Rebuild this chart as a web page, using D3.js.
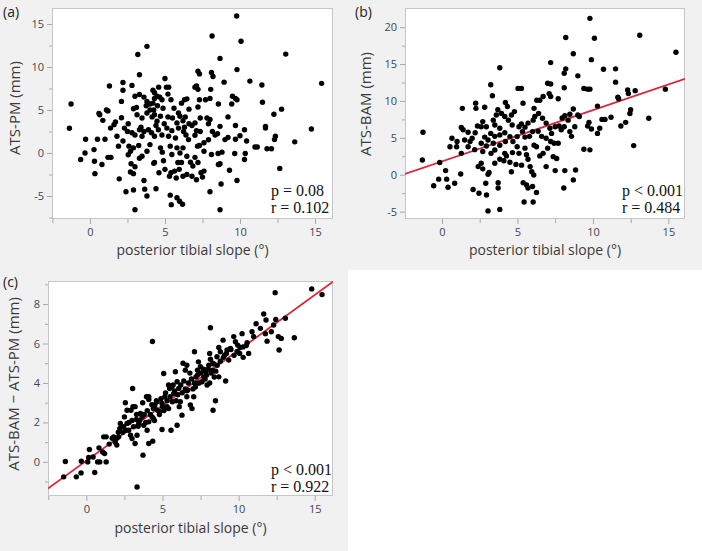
<!DOCTYPE html>
<html><head><meta charset="utf-8">
<script src="https://cdn.jsdelivr.net/npm/d3@7"></script>
<style>body{margin:0;background:#fff}svg{display:block}</style>
</head><body>
<svg id="chart" width="702" height="551"></svg>
<script>
// ---------------- DATA ----------------
const xTickLabels = [0, 5, 10, 15];
const xMinorTicks = [-2.5, 2.5, 7.5, 12.5];
const yTicksA = [-5, 0, 5, 10, 15];
const yMinorA = [-7.5, -2.5, 2.5, 7.5, 12.5];
const yTicksB = [-5, 0, 5, 10, 15, 20];
const yMinorB = [-2.5, 2.5, 7.5, 12.5, 17.5];
const yTicksC = [0, 2, 4, 6, 8];
const yMinorC = [-1, 1, 3, 5, 7, 9];

const panelLabels = ["(a)", "(b)", "(c)"];
const xTitle = "posterior tibial slope (°)";
const yTitles = ["ATS-PM (mm)", "ATS-BAM (mm)", "ATS-BAM − ATS-PM (mm)"];
const statsA = ["p = 0.08", "r = 0.102"];
const statsB = ["p < 0.001", "r = 0.484"];
const statsC = ["p < 0.001", "r = 0.922"];

// regression fits [intercept, slope]
const fitB = [1.8, 0.695];
const fitC = [0.06, 0.56];

// (a) posterior tibial slope vs ATS-PM
const pointsA = [
[9.78,15.93],[8.14,13.6],[10.07,13.0],[3.8,12.4],[3.19,11.45],[13.05,11.5],[8.67,11.0],[3.3,9.1],[7.2,9.5],[7.3,9.2],[8.1,9.36],[8.2,8.9],[9.8,9.7],[15.44,8.1],[10.66,8.36],[11.46,7.9],[8.94,8.24],[12.77,5.1],[11.5,5.9],[12.26,4.5],[14.76,2.8],[13.65,1.3],[-1.37,2.88],[-1.26,5.7],[12.65,-1.8],[8.67,-6.6],[3.0,-6.6],[6.17,-5.95],[5.42,-6.0],[5.8,-5.2],[5.97,-5.6],[5.35,-4.9],[3.8,-5.0],[3.65,-4.2],[4.4,-4.15],[8.0,-4.5],[2.4,-4.5],[2.9,-4.3],[1.95,-3.0],[3.6,-3.2],[9.8,-3.2],[8.74,-3.6],[0.33,-2.4],[9.3,-2.0],
[1.3,7.8],[2.2,8.2],[2.2,7.3],[2.8,7.86],[5.0,8.67],[5.1,7.66],[5.25,7.66],[4.58,7.66],[7.0,7.66],[7.2,7.4],[7.1,7.8],[8.05,7.4],[4.2,7.3],[4.3,7.0],
[0.6,4.6],[1.2,4.9],[1.1,5.0],[2.1,6.0],[3.0,6.6],[3.3,6.8],[3.6,6.5],[3.8,6.0],[3.75,5.5],[2.9,5.15],[3.1,5.3],[4.0,5.7],[4.2,5.8],[4.3,6.35],[4.47,6.6],[4.65,6.5],[4.8,6.2],[4.87,5.2],[4.5,5.5],[4.25,5.0],[5.2,6.85],[5.4,6.2],[5.6,5.2],[6.1,5.8],[6.3,6.2],[6.46,6.3],[6.6,5.1],[7.2,5.35],[7.3,6.2],[7.7,6.2],[8.0,6.35],[8.56,5.7],[9.5,6.6],[9.7,6.35],[9.8,6.2],[9.45,5.7],
[0.65,4.45],[0.86,3.8],[1.7,3.6],[1.37,2.9],[2.1,4.1],[2.55,3.4],[3.14,4.45],[3.47,4.07],[3.8,4.65],[4.0,5.0],[4.14,4.2],[4.3,4.45],[4.47,3.7],[4.7,4.27],[4.95,3.4],[5.2,4.2],[5.5,4.07],[5.9,4.65],[6.0,4.27],[6.2,3.76],[6.35,4.2],[6.6,3.4],[6.8,3.2],[7.0,3.5],[7.35,4.07],[7.8,4.07],[8.0,3.9],[7.9,3.4],[8.67,3.1],[9.2,4.2],[9.7,3.2],[10.3,2.7],[11.7,3.1],[11.7,2.9],
[-0.29,1.6],[0.5,1.6],[1.0,1.6],[1.8,1.95],[2.5,2.5],[2.8,2.35],[3.0,2.1],[3.3,2.7],[3.47,1.95],[3.6,2.5],[3.9,2.7],[4.1,2.35],[4.3,1.95],[4.56,2.7],[4.8,2.1],[5.13,2.9],[5.24,1.95],[5.46,2.6],[5.7,1.75],[5.9,2.9],[6.24,2.5],[6.4,2.1],[6.57,1.56],[7.0,2.07],[7.35,2.5],[7.6,1.2],[7.9,1.55],[8.16,2.5],[8.34,2.1],[8.5,2.25],[9.0,1.56],[9.7,1.6],[10.44,1.4],[11.0,0.7],[11.15,0.7],[12.3,1.56],[12.36,1.95],[11.8,0.5],[12.1,0.5],
[-0.62,-0.75],[-0.33,0.0],[0.27,0.4],[0.3,-0.95],[0.8,-1.33],[1.2,-0.5],[1.9,0.8],[2.55,-0.2],[2.7,0.2],[2.9,0.6],[3.25,0.87],[3.47,-0.37],[3.8,0.2],[4.0,0.98],[4.3,-1.1],[4.7,0.6],[4.82,0.1],[5.35,0.8],[5.46,-0.17],[5.8,0.6],[6.2,0.6],[6.46,-0.37],[6.7,-1.06],[7.17,0.8],[7.3,0.87],[7.6,0.2],[8.1,-0.17],[8.54,-0.06],[8.67,-1.25],[9.65,-0.06],[10.35,-0.06],[10.3,-0.75],
[1.4,-0.5],[2.74,-1.25],[3.0,-1.6],[2.9,-2.4],[2.7,-2.2],[4.25,-1.2],[4.6,-2.3],[5.0,-1.9],[5.4,-2.3],[5.64,-2.1],[5.86,-1.1],[5.95,-1.9],[6.1,-1.1],[6.2,-2.7],[6.46,-2.5],[6.86,-1.5],[7.2,-1.1],[7.4,-2.3],[7.5,-2.8],[7.6,-2.1],[8.56,-1.33],[8.6,-1.33],[6.8,-2.7],[5.3,-2.7],[5.75,-2.9],[7.1,-3.1],
[2.3,2.9],[1.6,3.3],[3.4,3.0],[4.4,3.2],[5.8,3.5],[6.3,3.0],[7.1,2.6],[2.6,0.8],[3.3,-0.6],[2.2,1.4],[4.9,-0.9],[6.0,0.0],[7.0,-0.5],[9.2,1.8],[8.8,0.1],[10.0,2.0]
];

// (b) posterior tibial slope vs ATS-BAM
const pointsB = [
[9.8,21.2],[8.2,18.6],[10.1,18.5],[13.1,18.9],[15.5,16.6],[8.7,16.4],[9.9,15.6],[7.2,15.2],[3.83,14.5],[8.2,14.35],[10.7,14.3],[11.5,14.35],[9.0,13.4],[8.1,13.76],[3.23,12.2],[11.5,12.55],[7.0,12.4],[7.2,12.3],[5.04,11.7],[5.26,11.7],[8.1,11.8],[9.4,11.7],[9.65,11.6],[9.8,11.6],[14.8,11.6],[12.3,11.5],[12.35,11.0],[12.8,11.4],[7.1,11.0],[6.28,10.1],[3.34,10.7],[7.2,10.6],[10.3,9.3],[11.65,10.5],[11.7,10.3],[1.35,9.0],[2.23,9.7],[2.25,9.0],[2.83,9.15],[4.2,9.8],[4.34,9.24],[5.37,9.7],[6.1,9.0],[6.48,10.1],[6.7,10.6],[7.7,10.3],[8.7,8.9],[9.1,7.9],[8.14,8.0],[7.96,7.7],[8.47,8.2],[8.36,7.4],[9.0,8.1],[9.65,6.6],[9.74,7.1],[9.9,6.2],[10.6,7.5],[10.8,7.5],[11.2,7.8],[12.45,8.3],[12.5,8.8],[12.17,7.1],[11.85,6.6],[13.7,7.65],[12.7,3.95],[10.3,5.6],[10.45,6.3],[9.4,3.45],[9.8,3.37],
[-1.3,2.0],[-1.26,5.76],[-0.55,-1.5],[-0.22,-0.6],[-0.15,1.65],[0.24,0.56],[0.31,-0.6],[0.4,-1.7],[0.84,-1.15],[1.24,0.1],[0.53,3.8],[0.66,4.95],[0.97,3.8],[1.0,4.5],[1.28,2.9],[1.5,4.7],[1.73,3.8],[1.86,4.5],[2.0,4.95],[2.2,5.7],[2.17,3.4],[2.06,-2.0],[2.45,-2.5],[2.95,-2.75],[3.05,-4.9],[3.83,-4.7],[5.44,-3.7],[6.04,-3.7],[6.26,-2.4],[6.0,-1.6],[5.6,-1.4],[5.38,-1.07],[5.7,-1.8],[8.07,-1.8],[8.7,-0.7],[8.85,0.65],[8.14,0.56],[7.5,0.56],[6.9,1.1],[5.95,0.4],[6.08,-0.03],[5.84,1.1],[5.27,1.3],[4.9,1.4],[4.6,0.4],[3.72,-1.07],[3.72,-1.8],[2.9,-1.15],[2.6,1.55],[2.7,0.8],[3.05,0.06],[3.12,0.3],[2.4,1.1],[3.5,1.55],[3.83,2.1],[4.1,1.9],[4.27,2.55],[4.67,3.0],[4.16,2.9],[4.5,1.7],[5.1,2.9],[4.98,3.8],[5.5,3.6],[5.6,2.7],[5.7,2.1],[6.1,4.0],[6.26,3.8],[6.48,2.55],[6.7,2.9],[7.0,3.6],[7.37,2.45],[7.6,2.2],[7.2,4.5],[7.43,4.27],[7.7,4.27],[6.9,4.95],[6.6,5.2],[6.37,5.9],[6.0,5.85],[5.8,5.2],[5.5,5.1],[5.33,5.85],[5.1,6.5],[5.26,6.9],[5.5,6.45],[5.7,7.0],[6.04,7.4],[6.15,7.9],[6.4,8.3],[6.66,7.65],[6.9,7.0],[7.15,6.3],[7.5,6.5],[7.76,6.6],[7.26,5.6],[7.9,6.1],[8.1,6.5],[8.47,5.85],[8.58,5.2],[8.8,6.5],[4.65,6.75],[4.4,7.4],[4.6,8.1],[4.8,8.56],[4.16,7.9],[3.94,8.3],[3.7,8.8],[3.6,8.1],[3.4,7.4],[3.5,6.75],[3.83,6.3],[4.16,5.7],[3.83,5.4],[3.5,5.2],[3.23,5.6],[3.05,4.7],[3.4,4.27],[2.83,5.1],[2.6,4.27],[2.94,3.9],[2.7,3.14],[3.25,2.9],[3.5,3.36],[3.83,4.0],[4.2,4.5],[4.5,5.17],[4.7,4.5],[4.98,5.17],[2.35,6.6],[2.6,6.5],[2.7,7.2],[2.94,6.5],[1.73,5.76],[1.4,6.1],[1.28,6.4]
];

// (c) posterior tibial slope vs ATS-BAM − ATS-PM
const pointsC = [
[14.8,8.77],[15.48,8.48],[12.4,8.58],[8.15,6.8],[4.34,6.1],[3.04,3.72],[3.72,0.34],[3.33,-1.27],[-1.38,0.02],[-1.49,-0.76],[-0.66,-0.76],[-0.35,-0.56],[0.55,-0.54],[-0.33,0.03],[0.09,0.0],[0.2,0.63],[0.15,0.22],[0.44,0.25],[0.74,0.0],[0.88,0.0],[1.3,0.0],[0.83,0.71],[1.07,0.5],[1.2,0.42],[1.14,1.27],[1.3,1.27],[1.8,1.27],[2.0,0.85],[1.9,1.0],[2.12,1.27],[2.23,1.95],[2.45,1.78],[2.67,1.95],[2.5,2.28],[2.56,3.0],[2.67,2.62],[2.93,2.62],[3.06,2.8],[3.2,2.8],[2.78,1.6],[2.9,1.35],[3.0,1.18],[3.2,0.93],[3.33,1.35],[3.1,1.78],[3.28,2.15],[3.44,1.95],[3.55,2.45],[3.66,2.28],[3.95,3.3],[4.1,3.16],[3.77,1.86],[3.99,1.6],[4.1,0.93],[4.36,1.05],[4.1,2.03],[4.32,2.28],[4.47,2.1],[4.53,2.7],[4.64,3.05],[4.82,2.54],[4.97,2.96],[5.08,4.48],[5.15,3.3],[5.3,2.8],[5.47,3.72],[5.4,3.9],[5.56,1.6],[5.65,3.05],[5.74,3.47],[5.85,4.57],[5.96,4.06],[6.07,3.72],[6.17,3.05],[6.28,2.37],[5.96,1.86],[6.5,4.65],[6.6,3.3],[6.66,3.64],[6.83,2.88],[6.94,2.7],[7.05,3.3],[7.16,3.8],[7.27,3.98],[7.3,4.65],[7.1,5.58],[6.35,5.0],[6.6,4.9],[7.36,5.07],[7.49,4.82],[7.71,4.31],[7.6,4.06],[7.82,4.57],[7.93,3.9],[8.04,4.9],[8.1,5.5],[8.15,5.2],[8.28,4.65],[8.37,4.96],[8.58,5.33],[8.7,5.8],[8.8,5.58],[8.98,6.17],[9.08,5.41],[9.24,5.67],[9.35,5.16],[9.46,5.75],[9.68,6.35],[9.79,6.09],[9.94,5.92],[10.07,5.5],[10.23,6.5],[10.29,5.83],[10.56,6.04],[10.66,5.5],[10.88,6.6],[10.99,6.35],[11.15,7.0],[11.43,6.77],[11.65,7.5],[11.8,7.19],[11.76,6.5],[11.87,6.12],[12.15,6.6],[12.3,6.94],[12.44,7.22],[12.61,6.35],[12.66,5.67],[12.8,6.26],[13.07,7.28],[13.66,6.29],[8.32,2.62],[8.48,3.1],[9.15,4.1],[8.7,4.31],[4.97,1.64],
[4.5,2.9],[4.7,2.6],[4.9,3.2],[5.2,3.5],[5.3,3.1],[5.5,3.3],[5.6,3.8],[5.8,3.6],[6.0,3.4],[6.2,3.9],[6.3,3.5],[6.4,4.1],[6.5,3.7],[6.7,4.0],[6.9,4.2],[7.0,3.7],[7.2,4.3],[7.4,4.0],[7.5,4.5],[7.7,4.7],[7.9,4.4],[8.0,4.7],[8.2,4.5],[8.3,5.0],[8.4,4.3],[8.6,4.9],[8.8,5.1],[9.0,5.3],[9.2,5.5],[9.5,5.7],[9.7,5.4],[9.9,5.6],[10.1,5.8],[10.3,5.3],[10.5,5.9],[3.8,2.4],[3.9,2.0],[4.0,2.6],[4.2,2.4],[4.3,2.9],[4.4,2.2],[3.5,2.1],[3.4,1.8],[3.3,2.4],[3.0,2.1],[2.8,2.0],[2.6,1.6],[2.4,1.5],[2.2,1.7],[2.1,1.5],[2.0,1.2],[1.7,1.2],[1.5,0.9],[5.0,2.8],[5.4,2.7],[5.9,3.1],[6.1,2.8],[6.6,3.6],[7.1,4.0],[7.3,4.4],[7.8,4.2],[8.1,4.0],[8.5,4.6],[4.6,3.1],[4.8,2.4],[5.1,2.6],[5.7,3.9],[6.8,4.5],[4.1,3.3],[4.4,2.7],[3.7,3.0]
];

// ---------------- DRAWING ----------------
const svg = d3.select("#chart");
const BG = "#f1f1f1";
svg.append("rect").attr("x", 0).attr("y", 0).attr("width", 702).attr("height", 270).attr("fill", BG);
svg.append("rect").attr("x", 0).attr("y", 270).attr("width", 348).attr("height", 281).attr("fill", BG);

const sansFont = "'Open Sans', 'Noto Sans', sans-serif";
const serifFont = "'Liberation Serif', 'Times New Roman', serif";

function drawPanel(cfg) {
  const g = svg.append("g");
  const x = d3.scaleLinear().domain(cfg.xDomain).range([cfg.left, cfg.right]);
  const y = d3.scaleLinear().domain(cfg.yDomain).range([cfg.bottom, cfg.top]);
  const clipId = "clip" + cfg.id;
  svg.append("clipPath").attr("id", clipId).append("rect")
    .attr("x", cfg.left).attr("y", cfg.top)
    .attr("width", cfg.right - cfg.left).attr("height", cfg.bottom - cfg.top);

  g.append("rect").attr("x", cfg.left).attr("y", cfg.top)
    .attr("width", cfg.right - cfg.left).attr("height", cfg.bottom - cfg.top)
    .attr("fill", "#fff");

  // minor ticks
  const xMinAx = g.append("g").attr("transform", `translate(0,${cfg.bottom})`)
    .call(d3.axisBottom(x).tickValues(xMinorTicks.filter(v => v >= cfg.xDomain[0] && v <= cfg.xDomain[1])).tickSize(4).tickFormat(""));
  const yMinAx = g.append("g").attr("transform", `translate(${cfg.left},0)`)
    .call(d3.axisLeft(y).tickValues(cfg.yMinor.filter(v => v >= cfg.yDomain[0] && v <= cfg.yDomain[1])).tickSize(3).tickFormat(""));
  // major ticks
  const xAx = g.append("g").attr("transform", `translate(0,${cfg.bottom})`)
    .call(d3.axisBottom(x).tickValues(xTickLabels).tickSize(5).tickPadding(4).tickFormat(d => String(d)));
  const yAx = g.append("g").attr("transform", `translate(${cfg.left},0)`)
    .call(d3.axisLeft(y).tickValues(cfg.yTicks).tickSize(5).tickPadding(3).tickFormat(d => String(d)));
  [xMinAx, yMinAx, xAx, yAx].forEach(a => {
    a.select(".domain").remove();
    a.selectAll(".tick line").attr("stroke", "#a8a8a8");
    a.selectAll("text").attr("font-family", sansFont).attr("font-size", 11).attr("fill", "#3e4656");
  });

  // box border
  g.append("rect").attr("x", cfg.left + 0.5).attr("y", cfg.top + 0.5)
    .attr("width", cfg.right - cfg.left - 1).attr("height", cfg.bottom - cfg.top - 1)
    .attr("fill", "none").attr("stroke", "#c6c6c6");

  // fit line
  if (cfg.fit) {
    const xs = cfg.xDomain;
    g.append("line").attr("clip-path", `url(#${clipId})`)
      .attr("x1", x(xs[0])).attr("y1", y(cfg.fit[0] + cfg.fit[1] * xs[0]))
      .attr("x2", x(xs[1])).attr("y2", y(cfg.fit[0] + cfg.fit[1] * xs[1]))
      .attr("stroke", "#d9263a").attr("stroke-width", 1.8);
  }

  // points
  g.append("g").attr("clip-path", `url(#${clipId})`).selectAll("circle").data(cfg.points).join("circle")
    .attr("cx", d => x(d[0])).attr("cy", d => y(d[1])).attr("r", 2.7).attr("fill", "#000");

  // stats text
  cfg.stats.forEach((s, i) => {
    g.append("text").attr("x", cfg.statsX).attr("y", cfg.statsY + i * 17)
      .attr("font-family", serifFont).attr("font-size", 16).attr("fill", "#111").text(s);
  });

  // axis titles
  g.append("text").attr("x", (cfg.left + cfg.right) / 2).attr("y", cfg.xTitleY)
    .attr("text-anchor", "middle").attr("font-family", sansFont).attr("font-size", 14)
    .attr("fill", "#3a3a3a").text(xTitle);
  g.append("text").attr("transform", `translate(${cfg.yTitleX},${cfg.yTitleCY}) rotate(-90)`)
    .attr("text-anchor", "middle").attr("dominant-baseline", "central")
    .attr("font-family", sansFont).attr("font-size", 15).attr("fill", "#3a3a3a").text(cfg.yTitle);

  // panel label
  g.append("text").attr("x", cfg.labelX).attr("y", cfg.labelY)
    .attr("font-family", sansFont).attr("font-size", 14).attr("fill", "#222").text(cfg.label);
}

drawPanel({
  id: "A", left: 52, right: 333, top: 8, bottom: 219,
  xDomain: [-2.53, 16.2], yDomain: [-7.67, 16.86],
  yTicks: yTicksA, yMinor: yMinorA, points: pointsA, fit: null,
  stats: statsA, statsX: 271, statsY: 196,
  xTitleY: 255, yTitle: yTitles[0], yTitleX: 14, yTitleCY: 108,
  label: panelLabels[0], labelX: 3, labelY: 17
});
drawPanel({
  id: "B", left: 405, right: 685, top: 8, bottom: 219,
  xDomain: [-2.45, 16.1], yDomain: [-6.0, 22.6],
  yTicks: yTicksB, yMinor: yMinorB, points: pointsB, fit: fitB,
  stats: statsB, statsX: 622, statsY: 196,
  xTitleY: 255, yTitle: yTitles[1], yTitleX: 365, yTitleCY: 104,
  label: panelLabels[1], labelX: 355, labelY: 17
});
drawPanel({
  id: "C", left: 48, right: 333, top: 281, bottom: 496,
  xDomain: [-2.52, 16.2], yDomain: [-1.73, 9.17],
  yTicks: yTicksC, yMinor: yMinorC, points: pointsC, fit: fitC,
  stats: statsC, statsX: 271, statsY: 475,
  xTitleY: 533, yTitle: yTitles[2], yTitleX: 13, yTitleCY: 384,
  label: panelLabels[2], labelX: 3, labelY: 287
});
</script>
</body></html>
